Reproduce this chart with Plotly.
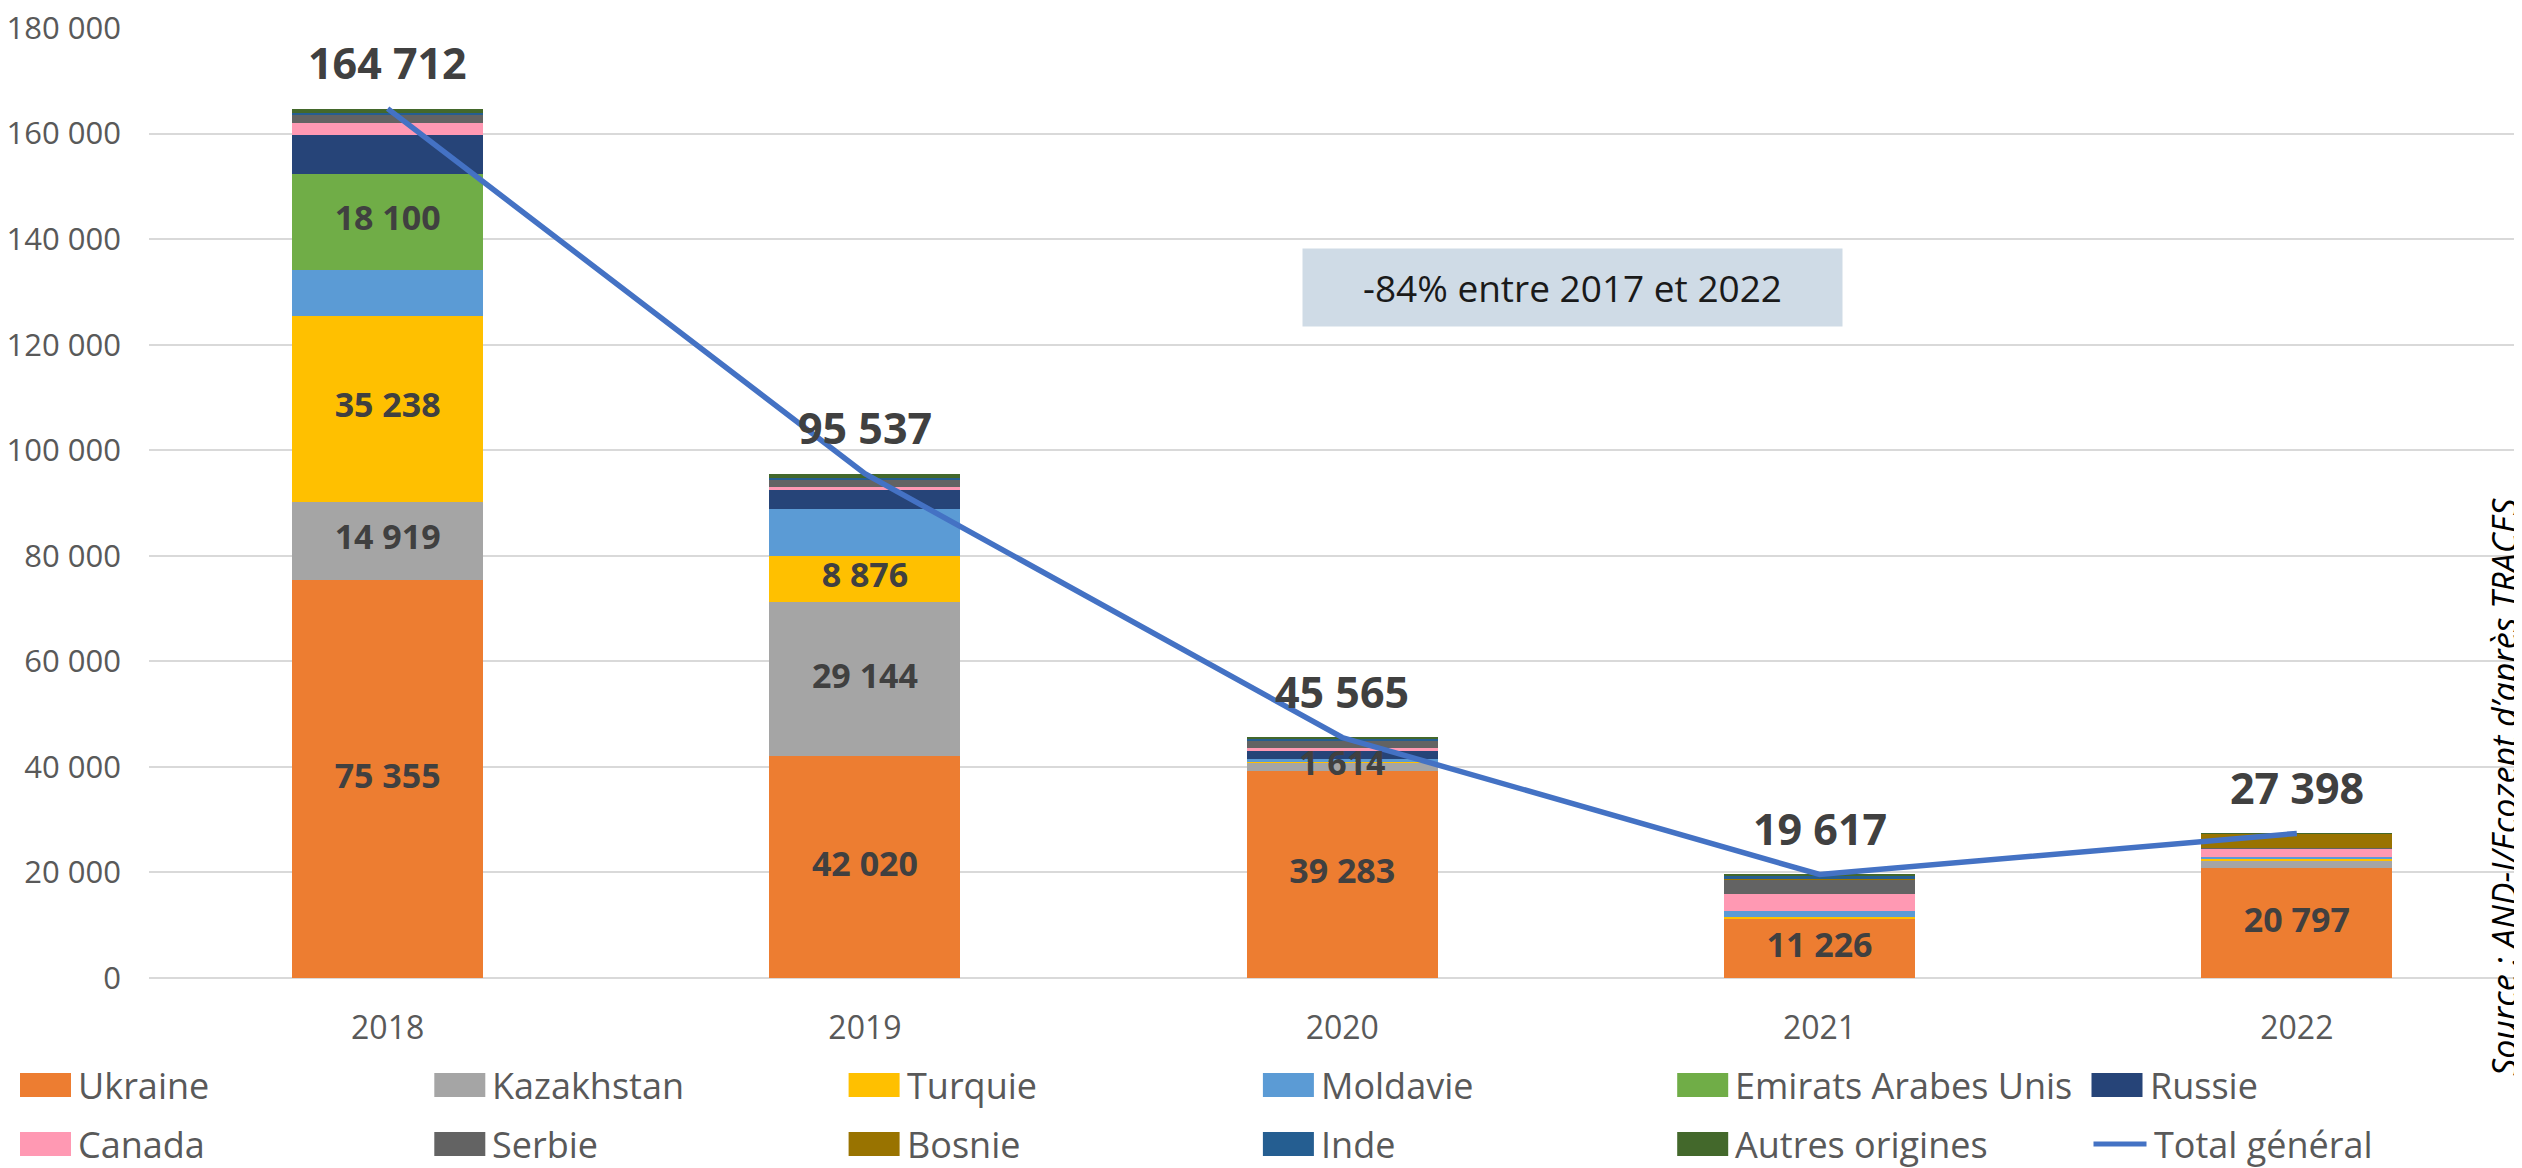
import plotly.graph_objects as go

# ---------------- data ----------------
years = ["2018", "2019", "2020", "2021", "2022"]

ukraine = [75355, 42020, 39283, 11226, 20797]
kazakhstan = [14919, 29144, 1614, 100, 1450]
turquie = [35238, 8876, 100, 300, 250]
moldavie = [8700, 8800, 550, 1050, 450]
emirats = [18100, 0, 0, 0, 0]
russie = [7500, 3650, 1400, 0, 0]
canada = [2100, 600, 550, 3200, 1500]
serbie = [1700, 1300, 1350, 2750, 200]
bosnie = [0, 0, 0, 150, 2700]
inde = [300, 400, 500, 650, 0]
autres = [800, 747, 218, 191, 51]

total_general = [164712, 95537, 45565, 19617, 27398]

series_names = ["Ukraine", "Kazakhstan", "Turquie", "Moldavie", "Emirats Arabes Unis", "Russie",
                "Canada", "Serbie", "Bosnie", "Inde", "Autres origines"]
series_values = [ukraine, kazakhstan, turquie, moldavie, emirats, russie,
                 canada, serbie, bosnie, inde, autres]
# which segments carry a data label (per year)
labelled = {
    "Ukraine": [True, True, True, True, True],
    "Kazakhstan": [True, True, True, False, False],
    "Turquie": [True, True, False, False, False],
    "Emirats Arabes Unis": [True, False, False, False, False],
}

y_ticks = [0, 20000, 40000, 60000, 80000, 100000, 120000, 140000, 160000, 180000]
note_text = "-84% entre 2017 et 2022"
source_text = "Source : AND-I/Ecozept d\u2019apr\u00e8s TRACES"
line_name = "Total g\u00e9n\u00e9ral"

# ---------------- styles ----------------
colors = ["#ED7D31", "#A5A5A5", "#FFC000", "#5B9BD5", "#70AD47", "#264478",
          "#FF99B3", "#636363", "#997300", "#255E91", "#43682B"]
line_color = "#4472C4"
FONT = "Open Sans"
TXT = "#595959"
LBL = "#404040"

# the page body adds an 8px margin: work in screen pixels and shift
OFF = 8
W, H = 2522 - OFF, 1168 - OFF
PLOT_LEFT, PLOT_TOP, PLOT_BOTTOM = 149, 28, 978          # screen pixels
ML = PLOT_LEFT - OFF
MT = PLOT_TOP - OFF
MB = H - (PLOT_BOTTOM - OFF)
MR = 0
PW = W - ML - MR
PH = H - MT - MB
CAT_STEP = 477.3                                          # screen px per category
x_max = -0.5 + PW / CAT_STEP


def fmt(v):
    return f"{v:,}".replace(",", " ")


def px(x):
    return (x - OFF - ML) / PW


def py(y):
    return (H - MB - (y - OFF)) / PH


fig = go.Figure()

for name, vals, col in zip(series_names, series_values, colors):
    fig.add_trace(go.Bar(
        x=years, y=vals, name=name, marker=dict(color=col, line=dict(width=0)),
        width=0.4, hoverinfo="x+y+name", showlegend=False,
    ))

fig.add_trace(go.Scatter(
    x=years, y=total_general, name=line_name, mode="lines",
    line=dict(color=line_color, width=5.5), showlegend=False,
))

# segment data labels, placed at the middle of each labelled segment (on top of all bars)
lab_x, lab_y, lab_t = [], [], []
base = [0] * len(years)
for name, vals in zip(series_names, series_values):
    flags = labelled.get(name, [False] * len(years))
    for j, (v, f) in enumerate(zip(vals, flags)):
        if f:
            lab_x.append(years[j])
            lab_y.append(base[j] + v / 2)
            lab_t.append(fmt(v))
    base = [b + v for b, v in zip(base, vals)]

fig.add_trace(go.Scatter(
    x=lab_x, y=lab_y, text=lab_t, mode="text", textposition="middle center",
    textfont=dict(family=FONT, size=34, color=LBL, weight="bold"),
    hoverinfo="skip", showlegend=False, cliponaxis=False,
))

annotations = []
for i, tot in enumerate(total_general):
    annotations.append(dict(
        x=i, y=tot, xref="x", yref="y", text=fmt(tot), showarrow=False,
        xanchor="center", yanchor="middle",
        yshift=46, font=dict(family=FONT, size=43, color=LBL, weight="bold"),
    ))

# note box
annotations.append(dict(
    x=px(1572), y=py(288), xref="paper", yref="paper", text=note_text, showarrow=False,
    xanchor="center", yanchor="middle",
    width=539, height=77, bgcolor="#CFDBE6", borderpad=0,
    font=dict(family=FONT, size=37, color="#1A1A1A"),
))

# source text (vertical)
annotations.append(dict(
    x=px(2504), y=py(787), xref="paper", yref="paper", text="<i>" + source_text + "</i>",
    showarrow=False, textangle=-90, xanchor="center", yanchor="middle",
    font=dict(family=FONT, size=34, color="#000000"),
))

# custom legend
shapes = []
legend_items = list(zip(series_names, colors)) + [(line_name, None)]
step = 414.3
row_y = [1085, 1144]
for i, (name, col) in enumerate(legend_items):
    row, c = divmod(i, 6)
    x0 = 20 + c * step
    yc = row_y[row]
    if col is not None:
        shapes.append(dict(type="rect", xref="paper", yref="paper",
                           x0=px(x0), x1=px(x0 + 51), y0=py(yc + 12), y1=py(yc - 12),
                           fillcolor=col, line=dict(width=0)))
        tx = x0 + 56
    else:
        shapes.append(dict(type="line", xref="paper", yref="paper",
                           x0=px(x0 + 2), x1=px(x0 + 55), y0=py(yc), y1=py(yc),
                           line=dict(color=line_color, width=5)))
        tx = x0 + 60
    annotations.append(dict(
        x=px(tx), y=py(yc), xref="paper", yref="paper", text=name, showarrow=False,
        xanchor="left", yanchor="middle", font=dict(family=FONT, size=36, color=TXT),
    ))

fig.update_layout(
    width=W, height=H, barmode="stack", bargap=0.6,
    margin=dict(l=ML, r=MR, t=MT, b=MB, pad=0, autoexpand=False),
    paper_bgcolor="white", plot_bgcolor="white",
    separators=", ",
    font=dict(family=FONT, color=TXT),
    showlegend=False,
    annotations=annotations, shapes=shapes,
    xaxis=dict(type="category", range=[-0.5, x_max], showgrid=False, showline=False,
               automargin=False, ticklabeloverflow="allow",
               ticks="", tickfont=dict(family=FONT, size=32, color=TXT),
               ticklabelstandoff=28, fixedrange=True),
    yaxis=dict(range=[0, 180000], tickvals=y_ticks, tickformat=",d",
               automargin=False, ticklabeloverflow="allow",
               showgrid=True, gridcolor="#D9D9D9", gridwidth=2,
               zeroline=True, zerolinecolor="#D9D9D9", zerolinewidth=2,
               showline=False, ticks="", tickfont=dict(family=FONT, size=31, color=TXT),
               ticklabelstandoff=27, fixedrange=True),
)

fig.write_html("out.html")
